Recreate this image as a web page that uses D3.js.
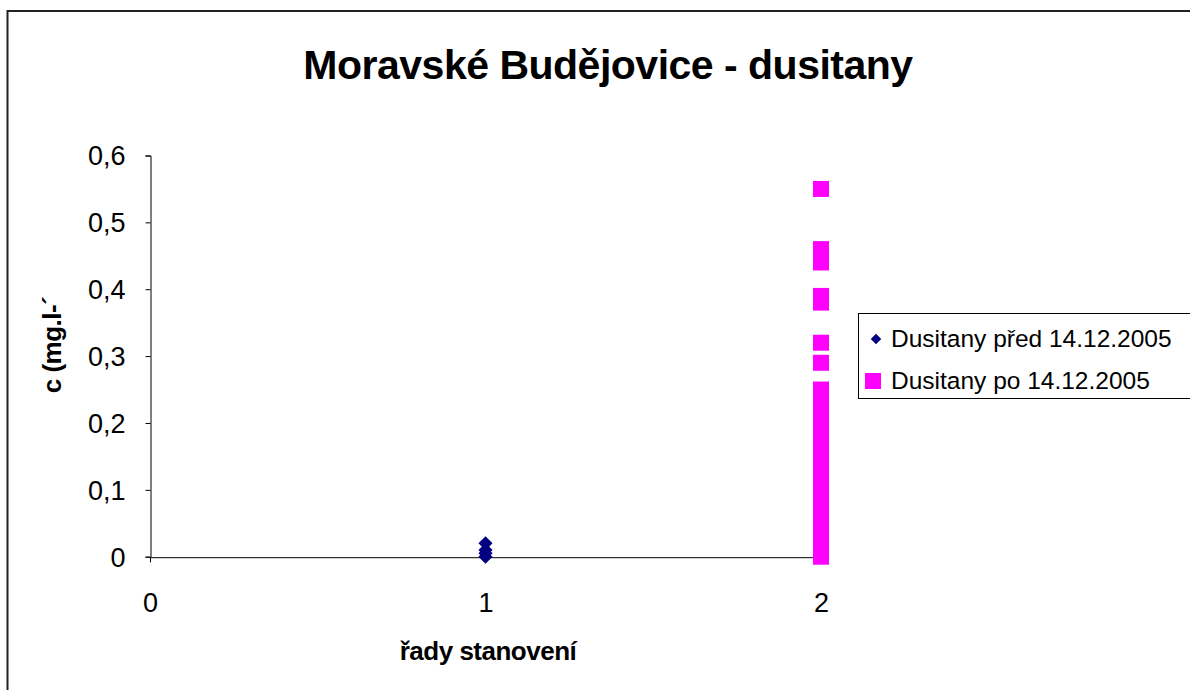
<!DOCTYPE html>
<html>
<head>
<meta charset="utf-8">
<script src="https://cdn.jsdelivr.net/npm/d3@7"></script>
<style>
  body { margin: 0; background: #fff; }
  text { font-family: "Liberation Sans", Arial, sans-serif; fill: #000; }
</style>
</head>
<body>
<svg></svg>
<script>
// series: x position (řada) and measured values
var seriesNames = ['Dusitany před 14.12.2005', 'Dusitany po 14.12.2005'];
var beforeX = 1;
var beforeValues = [0.02, 0.01, 0.005, 0];
var afterX = 2;
var afterValues = [0.55, 0.46, 0.45, 0.44, 0.39, 0.38, 0.32, 0.29,
  0.25, 0.24, 0.23, 0.22, 0.21, 0.2, 0.19, 0.18, 0.17, 0.16, 0.15, 0.14,
  0.13, 0.12, 0.11, 0.1, 0.09, 0.08, 0.07, 0.06, 0.05, 0.04, 0.03, 0.02, 0.01, 0];
var xTicks = [0, 1, 2];
var yTicks = [0, 0.1, 0.2, 0.3, 0.4, 0.5, 0.6];

var width = 1190;
var height = 690;
var svg = d3.select('svg')
  .attr('width', width)
  .attr('height', height);

// chart border (runs off the right and bottom edge)
svg.append('rect')
  .attr('x', 7.5).attr('y', 11)
  .attr('width', 1300).attr('height', 800)
  .attr('fill', 'none')
  .attr('stroke', '#222')
  .attr('stroke-width', 2);

var xScale = d3.scaleLinear().domain([0, 2]).range([150, 821]);
var yScale = d3.scaleLinear().domain([0, 0.6]).range([556.7, 155.5]);
var fmt = function(d) { return String(d).replace('.', ','); };

// diamond = square turned by 45 degrees
var diamond = function(size) {
  return d3.symbol().type(d3.symbolSquare).size(size)();
};

// y axis
var yAxis = svg.append('g')
  .attr('transform', 'translate(150.5,0)')
  .call(d3.axisLeft(yScale).tickValues(yTicks).tickSize(5).tickPadding(20).tickFormat(fmt));
yAxis.selectAll('text').style('font-size', '27px').attr('dy', '0.35em');

// x axis
var xAxis = svg.append('g')
  .attr('transform', 'translate(0,' + (yScale(0) + 0.5) + ')')
  .call(d3.axisBottom(xScale).tickValues(xTicks).tickSize(5).tickPadding(31).tickFormat(fmt));
xAxis.selectAll('text').style('font-size', '27px');

svg.selectAll('.domain, .tick line').attr('stroke', '#000');

// series before: navy diamonds
svg.selectAll('.before')
  .data(beforeValues)
  .enter()
  .append('path')
    .attr('class', 'before')
    .attr('d', diamond(100))
    .attr('transform', d => 'translate(' + xScale(beforeX) + ',' + yScale(d) + ') rotate(45)')
    .attr('fill', '#000080');

// series after: magenta squares
svg.selectAll('.after')
  .data(afterValues)
  .enter()
  .append('rect')
    .attr('class', 'after')
    .attr('x', xScale(afterX) - 8)
    .attr('y', d => yScale(d) - 8)
    .attr('width', 16)
    .attr('height', 16)
    .attr('fill', '#ff00ff');

// titles
svg.append('text')
  .attr('x', 608).attr('y', 79)
  .attr('text-anchor', 'middle')
  .style('font-size', '41px').style('font-weight', 'bold').style('letter-spacing', '-0.5px')
  .text('Moravské Budějovice - dusitany');

svg.append('text')
  .attr('x', 488).attr('y', 660)
  .attr('text-anchor', 'middle')
  .style('font-size', '26px').style('font-weight', 'bold').style('letter-spacing', '-0.5px')
  .text('řady stanovení');

svg.append('text')
  .attr('transform', 'translate(61,345) rotate(-90)')
  .attr('text-anchor', 'middle')
  .style('font-size', '26px').style('font-weight', 'bold').style('letter-spacing', '-0.5px')
  .text('c (mg.l-´');

// legend
var legend = svg.append('g').attr('transform', 'translate(858,313)');
legend.append('rect')
  .attr('x', 0.5).attr('y', 0.5)
  .attr('width', 400).attr('height', 85)
  .attr('fill', '#fff')
  .attr('stroke', '#000');

legend.append('path')
  .attr('d', diamond(55))
  .attr('transform', 'translate(18,26) rotate(45)')
  .attr('fill', '#000080');
legend.append('rect')
  .attr('x', 7).attr('y', 60)
  .attr('width', 16).attr('height', 16)
  .attr('fill', '#ff00ff');

legend.selectAll('.label')
  .data(seriesNames)
  .enter()
  .append('text')
    .attr('class', 'label')
    .attr('x', 33)
    .attr('y', (d, i) => 34 + i * 42)
    .style('font-size', '24.5px')
    .text(d => d);
</script>
</body>
</html>
